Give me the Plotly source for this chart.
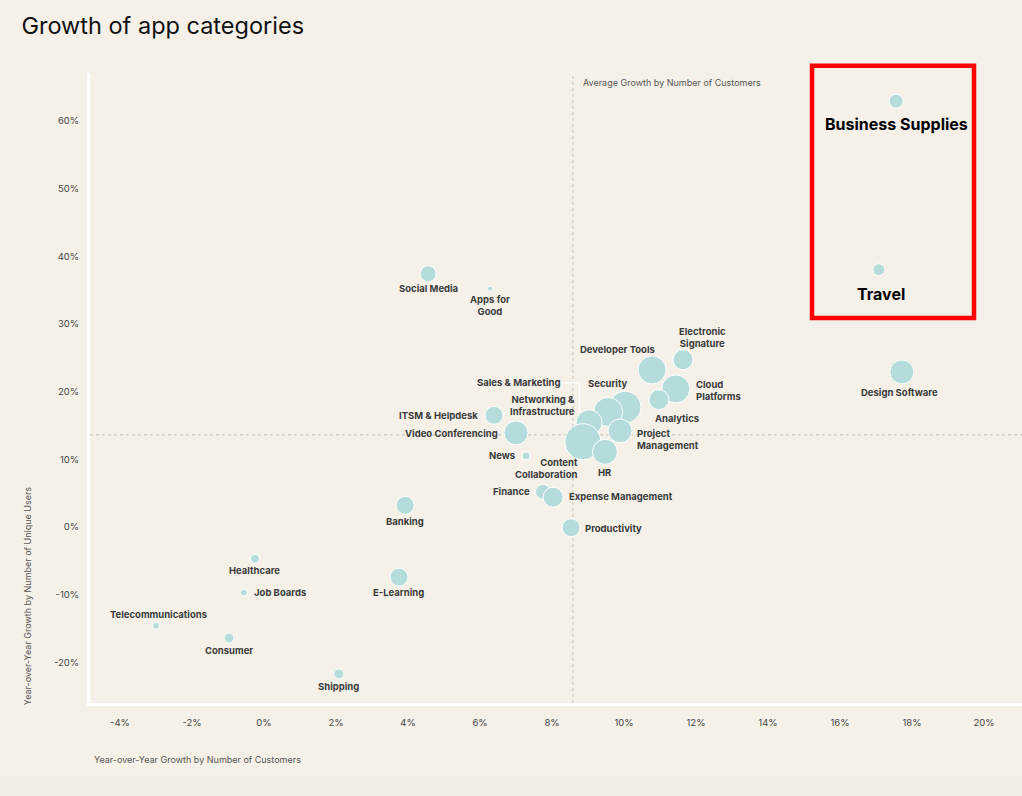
import plotly.graph_objects as go

# YoY growth by number of customers (%), YoY growth by unique users (%), relative bubble size
categories = [
    "Business Supplies", "Travel", "Design Software", "Social Media", "Apps for Good",
    "Developer Tools", "Electronic Signature", "Cloud Platforms", "Analytics", "Security",
    "Sales & Marketing", "Networking & Infrastructure", "Project Management",
    "Content Collaboration", "HR", "ITSM & Helpdesk", "Video Conferencing", "News",
    "Finance", "Expense Management", "Productivity", "Banking", "E-Learning",
    "Healthcare", "Job Boards", "Telecommunications", "Consumer", "Shipping",
]
customer_growth = [
    17.56, 17.08, 17.72, 4.56, 6.28,
    10.78, 11.64, 11.44, 10.97, 10.03,
    9.56, 9.03, 9.89,
    8.86, 9.47, 6.39, 7.00, 7.28,
    7.75, 8.03, 8.53, 3.92, 3.75,
    -0.25, -0.56, -3.00, -0.97, 2.08,
]
user_growth = [
    62.9, 38.0, 22.9, 37.4, 35.2,
    23.2, 24.7, 20.4, 18.8, 17.7,
    17.0, 15.4, 14.2,
    12.6, 11.1, 16.5, 13.9, 10.5,
    5.2, 4.4, -0.1, 3.2, -7.4,
    -4.7, -9.7, -14.6, -16.4, -21.7,
]
bubble_value = [
    49, 36, 144, 64, 7,
    196, 100, 196, 100, 256,
    210, 169, 144,
    324, 156, 81, 144, 16,
    56, 100, 81, 81, 81,
    20, 12, 12, 25, 25,
]
avg_customer_growth = 8.58
avg_user_growth = 13.6

x_ticks = list(range(-4, 21, 2))
y_ticks = list(range(-20, 61, 10))

highlighted = ["Business Supplies", "Travel"]

# label placement: (xshift px, yshift px, xanchor)
label_pos = {
    "Business Supplies": (0, -23, "center"),
    "Travel": (2, -24, "center"),
    "Design Software": (-2, -21, "center"),
    "Social Media": (0, -15, "center"),
    "Apps for Good": (0, -17, "center"),
    "Developer Tools": (-35, 20, "center"),
    "Electronic Signature": (19, 22, "center"),
    "Cloud Platforms": (18, -2, "left"),
    "Analytics": (18, -19, "center"),
    "Security": (-17, 24, "center"),
    "Sales & Marketing": (-46, 29, "right"),
    "Networking & Infrastructure": (-12, 17, "right"),
    "Project Management": (15, -9, "left"),
    "Content Collaboration": (-3, -27, "right"),
    "HR": (0, -21, "center"),
    "ITSM & Helpdesk": (-14, 0, "right"),
    "Video Conferencing": (-16, -1, "right"),
    "News": (-9, 0, "right"),
    "Finance": (-11, 0, "right"),
    "Expense Management": (14, 0, "left"),
    "Productivity": (12, -1, "left"),
    "Banking": (0, -17, "center"),
    "E-Learning": (0, -16, "center"),
    "Healthcare": (0, -12, "center"),
    "Job Boards": (8, 0, "left"),
    "Telecommunications": (3, 11, "center"),
    "Consumer": (0, -12, "center"),
    "Shipping": (0, -13, "center"),
}
two_line = {
    "Apps for Good": "Apps for<br>Good",
    "Electronic Signature": "Electronic<br>Signature",
    "Cloud Platforms": "Cloud<br>Platforms",
    "Networking & Infrastructure": "Networking &<br>Infrastructure",
    "Project Management": "Project<br>Management",
    "Content Collaboration": "Content<br>Collaboration",
}

bg = "#f5f1e9"
fig = go.Figure()

# leader line for Sales & Marketing (sits behind the bubbles)
i_sm = categories.index("Sales & Marketing")
sx, sy = customer_growth[i_sm], user_growth[i_sm]
fig.add_trace(go.Scatter(
    x=[sx - 1.25, sx - 0.8, sx - 0.8, sx],
    y=[sy + 4.3, sy + 4.3, sy, sy],
    mode="lines", line=dict(color="white", width=1.5),
    hoverinfo="skip", showlegend=False,
))

fig.add_trace(go.Scatter(
    x=customer_growth, y=user_growth, mode="markers",
    text=categories,
    marker=dict(size=bubble_value, sizemode="area", sizeref=0.5,
                color="#b4dcdb", line=dict(color="white", width=1), opacity=1),
    hovertemplate="%{text}<extra></extra>",
    showlegend=False, cliponaxis=False,
))

for name, cx, cy in zip(categories, customer_growth, user_growth):
    dx, dy, anchor = label_pos[name]
    big = name in highlighted
    fig.add_annotation(
        x=cx, y=cy, xref="x", yref="y", showarrow=False,
        text=two_line.get(name, name),
        xshift=dx, yshift=dy, xanchor=anchor, yanchor="middle",
        align="center" if anchor == "center" else anchor,
        font=dict(family="Inter", size=16 if big else 9.5,
                  color="#000000" if big else "#3b3b3b", weight="bold"),
    )

# average lines
fig.add_shape(type="line", xref="x", yref="paper", x0=avg_customer_growth, x1=avg_customer_growth,
              y0=0, y1=0.995, line=dict(color="#cdc8be", width=1.2, dash="dot"), layer="below")
fig.add_shape(type="line", xref="paper", yref="y", x0=0, x1=1, y0=avg_user_growth, y1=avg_user_growth,
              line=dict(color="#cdc8be", width=1.2, dash="dot"), layer="below")
fig.add_annotation(x=avg_customer_growth, y=1.0, xref="x", yref="paper", xshift=8, yshift=-9,
                   text="Average Growth by Number of Customers", showarrow=False,
                   xanchor="left", yanchor="middle",
                   font=dict(family="Inter", size=9, color="#555555"))

# red highlight box
fig.add_shape(type="rect", xref="paper", yref="paper", x0=0.7747, x1=0.9485, y0=0.611, y1=1.0116,
              line=dict(color="#ff0000", width=4.5))

# faint darker strip at the very bottom
fig.add_shape(type="rect", xref="paper", yref="paper", x0=-0.1, x1=1.0, y0=-0.15, y1=-0.115,
              fillcolor="#f2eee7", line=dict(width=0), layer="below")

# axis titles
fig.add_annotation(x=-0.0676, y=0.171, xref="paper", yref="paper", showarrow=False, textangle=-90,
                   xanchor="center", yanchor="middle",
                   text="Year-over-Year Growth by Number of Unique Users",
                   font=dict(family="Inter", size=9, color="#555555"))
fig.add_annotation(x=0.002, y=-0.089, xref="paper", yref="paper", showarrow=False,
                   xanchor="left", yanchor="middle",
                   text="Year-over-Year Growth by Number of Customers",
                   font=dict(family="Inter", size=9, color="#555555"))

fig.update_layout(
    width=1022, height=796,
    paper_bgcolor=bg, plot_bgcolor=bg,
    margin=dict(l=90, r=0, t=73, b=93),
    title=dict(text="Growth of app categories", x=0.021, y=0.967, xanchor="left", yanchor="middle",
               font=dict(family="Inter", size=23.5, color="#111111")),
    xaxis=dict(range=[-4.833, 21.056], tickmode="array", tickvals=x_ticks,
               ticktext=[f"{v}%" for v in x_ticks],
               showgrid=False, zeroline=False, showline=True, linecolor="white", linewidth=3,
               ticks="outside", ticklen=9, tickcolor="rgba(0,0,0,0)",
               tickfont=dict(family="Inter", size=9.5, color="#444444")),
    yaxis=dict(range=[-26.0, 67.06], tickmode="array", tickvals=y_ticks,
               ticktext=[f"{v}%" for v in y_ticks],
               showgrid=False, zeroline=False, showline=True, linecolor="white", linewidth=3,
               ticks="outside", ticklen=6, tickcolor="rgba(0,0,0,0)",
               tickfont=dict(family="Inter", size=9.5, color="#444444")),
    hovermode="closest",
)

fig.write_html("out.html", config={"displayModeBar": False},
               post_script="document.body.style.margin='0';")
